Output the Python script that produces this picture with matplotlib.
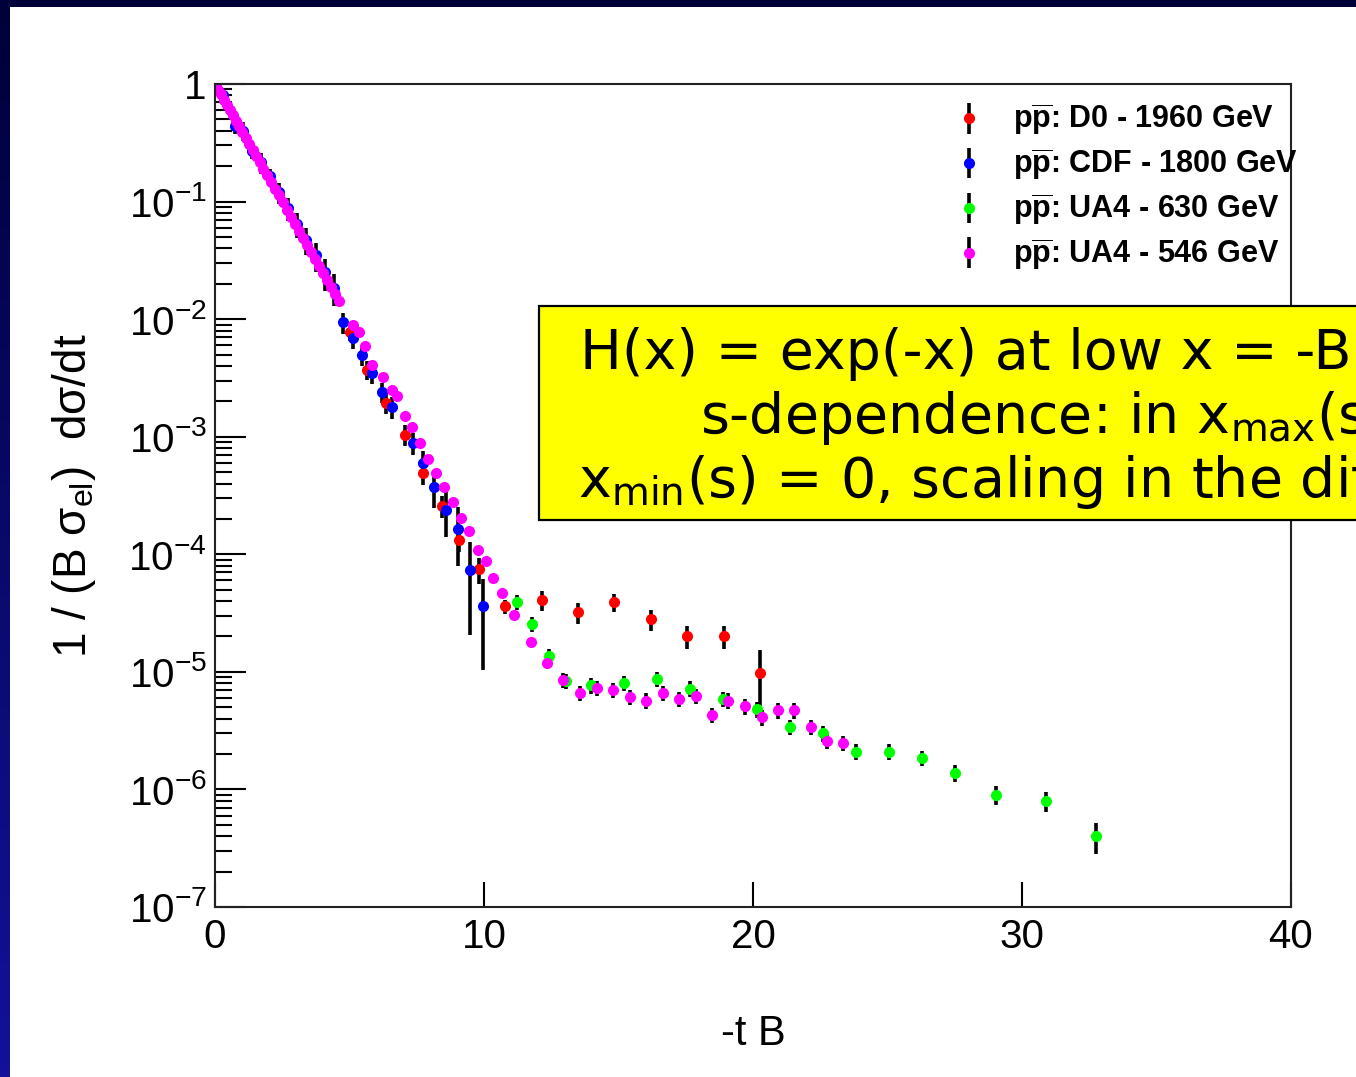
import numpy as np
import matplotlib
matplotlib.use("Agg")
import matplotlib.pyplot as plt
from matplotlib.patches import Rectangle
from matplotlib.ticker import FixedLocator, LogLocator, NullFormatter, NullLocator

plt.rcParams['font.family'] = ['Liberation Sans', 'DejaVu Sans']
plt.rcParams['mathtext.fontset'] = 'custom'
plt.rcParams['mathtext.rm'] = 'Liberation Sans'
plt.rcParams['mathtext.it'] = 'Liberation Sans:italic'
plt.rcParams['mathtext.bf'] = 'Liberation Sans:bold'
plt.rcParams['mathtext.sf'] = 'Liberation Sans'

# ---- data: x = -t B, y = 1/(B sigma_el) dsigma/dt ----
# D0, 1960 GeV
d0_x = [5.02, 5.65, 6.36, 7.06, 7.73, 8.44, 9.07, 9.81, 10.78, 12.16, 13.49,
        14.83, 16.21, 17.55, 18.92, 20.26]
d0_y = [7.7e-3, 3.7e-3, 1.95e-3, 1.04e-3, 4.95e-4, 2.59e-4, 1.33e-4, 7.5e-5,
        3.6e-5, 4.1e-5, 3.2e-5, 3.9e-5, 2.8e-5, 2.0e-5, 2.0e-5, 9.8e-6]
d0_rel = [0.15, 0.18, 0.2, 0.2, 0.22, 0.22, 0.22, 0.25, 0.13, 0.2, 0.2,
          0.18, 0.2, 0.22, 0.22, 0.58]

# CDF, 1800 GeV
cdf_x = [0.30, 0.74, 1.05, 1.38, 1.72, 2.04, 2.38, 2.72, 3.06, 3.40, 3.74,
         4.08, 4.42, 4.76, 5.13, 5.46, 5.84, 6.21, 6.58, 7.36, 7.73, 8.14,
         8.59, 9.03, 9.48, 9.96]
cdf_y = [0.80, 0.44, 0.40, 0.269, 0.215, 0.164, 0.12, 0.088, 0.064, 0.047,
         0.035, 0.025, 0.0185, 9.4e-3, 6.9e-3, 5.0e-3, 3.5e-3, 2.4e-3,
         1.8e-3, 8.9e-4, 6.0e-4, 3.7e-4, 2.4e-4, 1.65e-4, 7.4e-5, 3.6e-5]
cdf_rel = [0.15, 0.15, 0.18, 0.15, 0.2, 0.15, 0.2, 0.22, 0.24, 0.26, 0.28,
           0.3, 0.3, 0.2, 0.2, 0.2, 0.2, 0.2, 0.22, 0.22, 0.25, 0.33,
           0.42, 0.52, 0.72, 0.71]

# UA4, 630 GeV
ua630_x = [11.23, 11.78, 12.42, 13.05, 13.98, 15.20, 16.43, 17.66, 18.88,
           20.15, 21.38, 22.60, 23.83, 25.06, 26.28, 27.51, 29.03, 30.89,
           32.75]
ua630_y = [3.95e-5, 2.56e-5, 1.37e-5, 8.4e-6, 7.7e-6, 8.05e-6, 8.7e-6,
           7.2e-6, 5.9e-6, 4.8e-6, 3.4e-6, 3.0e-6, 2.1e-6, 2.1e-6, 1.85e-6,
           1.38e-6, 9.0e-7, 8.0e-7, 4.0e-7]
ua630_rel = [0.15, 0.15, 0.15, 0.15, 0.15, 0.15, 0.15, 0.15, 0.15, 0.15,
             0.15, 0.15, 0.15, 0.15, 0.15, 0.16, 0.18, 0.2, 0.3]

# UA4, 546 GeV
ua546_x = [0.02, 0.12, 0.22, 0.33, 0.44, 0.55, 0.66, 0.78, 0.90, 1.02, 1.14,
           1.27, 1.40, 1.53, 1.66, 1.80, 1.94, 2.08, 2.22, 2.37, 2.52, 2.67,
           2.82, 2.97, 3.12, 3.27, 3.42, 3.57, 3.72, 3.87, 4.02, 4.17, 4.32,
           4.47, 4.62, 5.13, 5.35, 5.58, 5.84, 6.25, 6.58, 6.77, 7.06, 7.32,
           7.62, 7.92, 8.22, 8.51, 8.85, 9.14, 9.44, 9.78, 10.07, 10.33,
           10.67, 11.12, 11.75, 12.34, 12.94, 13.57, 14.20, 14.80, 15.43,
           16.02, 16.65, 17.25, 17.88, 18.48, 19.07, 19.70, 20.33, 20.93,
           21.52, 22.16, 22.75, 23.35]
ua546_y = [0.982, 0.895, 0.817, 0.738, 0.667, 0.603, 0.545, 0.488, 0.437,
           0.391, 0.350, 0.310, 0.275, 0.244, 0.217, 0.191, 0.167, 0.147,
           0.129, 0.113, 0.0982, 0.0855, 0.0745, 0.0649, 0.0565, 0.0492,
           0.0429, 0.0373, 0.0325, 0.0283, 0.0247, 0.0215, 0.0187, 0.0163,
           0.0142, 9.0e-3, 7.7e-3, 5.9e-3, 4.1e-3, 3.2e-3, 2.5e-3, 2.2e-3,
           1.49e-3, 1.2e-3, 8.9e-4, 6.5e-4, 4.95e-4, 3.7e-4, 2.8e-4, 2.05e-4,
           1.59e-4, 1.09e-4, 8.8e-5, 6.3e-5, 4.7e-5, 3.06e-5, 1.8e-5, 1.19e-5,
           8.5e-6, 6.6e-6, 7.3e-6, 7.0e-6, 6.1e-6, 5.7e-6, 6.6e-6, 5.9e-6,
           6.25e-6, 4.3e-6, 5.7e-6, 5.1e-6, 4.1e-6, 4.7e-6, 4.7e-6, 3.4e-6,
           2.6e-6, 2.5e-6]
ua546_rel = [0.03] * 58 + [0.15] * 18

series = [
    (d0_x, d0_y, d0_rel, '#ff0000', r'$\mathbf{p\overline{p}}$: D0 - 1960 GeV'),
    (cdf_x, cdf_y, cdf_rel, '#0000ff', r'$\mathbf{p\overline{p}}$: CDF - 1800 GeV'),
    (ua630_x, ua630_y, ua630_rel, '#00ff00', r'$\mathbf{p\overline{p}}$: UA4 - 630 GeV'),
    (ua546_x, ua546_y, ua546_rel, '#ff00ff', r'$\mathbf{p\overline{p}}$: UA4 - 546 GeV'),
]

W, H = 1356, 1077
fig = plt.figure(figsize=(W / 100, H / 100), dpi=100)

# navy slide frame
bg = fig.add_axes([0, 0, 1, 1], zorder=-10)
grad = np.linspace(0, 1, 256).reshape(-1, 1)
top_c = np.array([0x00, 0x00, 0x3a]) / 255
bot_c = np.array([0x12, 0x12, 0x9a]) / 255
img = top_c[None, None, :] * (1 - grad[..., None]) + bot_c[None, None, :] * grad[..., None]
bg.imshow(img, extent=[0, 1, 0, 1], aspect='auto', origin='upper')
bg.add_patch(Rectangle((10 / W, 0), 1, 1 - 7 / H, facecolor='white', edgecolor='none'))
bg.set_xlim(0, 1)
bg.set_ylim(0, 1)
bg.axis('off')

ax = fig.add_axes([215 / W, 1 - 907 / H, (1291 - 215) / W, (907 - 84) / H])
ax.set_facecolor('white')

handles = []
for x, y, rel, col, lab in series:
    x = np.asarray(x)
    y = np.asarray(y)
    err = y * np.asarray(rel)
    ax.errorbar(x, y, yerr=err, fmt='o', ms=8, mfc=col, mec=col, mew=0,
                ecolor='black', elinewidth=2.6, capsize=3.5, capthick=2.6)
    h = ax.errorbar([np.nan], [np.nan], yerr=[np.nan], fmt='o', ms=8, mfc=col,
                    mec=col, mew=0, ecolor='black', elinewidth=2.6, capsize=0)
    handles.append((h, lab))

ax.set_xlim(0, 40)
ax.set_yscale('log')
ax.set_ylim(1e-7, 1)

ax.set_xticks([0, 10, 20, 30, 40])
ax.set_xticklabels(['0', '10', '20', '30', '40'])
ax.xaxis.set_minor_locator(NullLocator())
ax.yaxis.set_major_locator(FixedLocator([1e-7, 1e-6, 1e-5, 1e-4, 1e-3, 1e-2, 1e-1, 1]))
ax.set_yticklabels([r'$10^{-7}$', r'$10^{-6}$', r'$10^{-5}$', r'$10^{-4}$',
                    r'$10^{-3}$', r'$10^{-2}$', r'$10^{-1}$', '1'])
ax.yaxis.set_minor_locator(LogLocator(base=10, subs=np.arange(2, 10), numticks=20))
ax.yaxis.set_minor_formatter(NullFormatter())

ax.tick_params(axis='x', which='major', direction='in', length=18, width=1.5,
               labelsize=29, pad=8, top=False)
ax.tick_params(axis='y', which='major', direction='in', length=22, width=1.5,
               labelsize=29, pad=6, right=False)
ax.tick_params(axis='y', which='minor', direction='in', length=12, width=1.5,
               right=False)
for s in ax.spines.values():
    s.set_linewidth(1.5)
    s.set_color('#222222')

ax.set_xlabel('-t B', fontsize=30, labelpad=42)
ax.set_ylabel(r'1 / (B σ$_{\mathrm{el}}$)  dσ/dt', fontsize=33, labelpad=22)

leg = ax.legend([h for h, _ in handles], [l for _, l in handles],
                loc='upper left', bbox_to_anchor=(0.665, 1.004), frameon=False,
                prop={'size': 22, 'weight': 'bold'}, handlelength=1.1,
                handletextpad=0.9, labelspacing=0.28, borderaxespad=0.3)

# yellow comment box over the plot
box_l, box_t, box_b = 539 / W, 1 - 306 / H, 1 - 520 / H
fig.patches.append(Rectangle((box_l, box_b), 0.8, box_t - box_b,
                             transform=fig.transFigure, facecolor='#ffff00',
                             edgecolor='black', linewidth=1.6, zorder=20))
tkw = dict(fontsize=40, family='DejaVu Sans', color='black',
           va='baseline', ha='left', zorder=21)
fig.text(580 / W, 1 - 369 / H, 'H(x) = exp(-x) at low x = -B', **tkw)
fig.text(700 / W, 1 - 433 / H, r's-dependence: in x$_\mathregular{max}$(s)', **tkw)
fig.text(578 / W, 1 - 497 / H, r'x$_\mathregular{min}$(s) = 0, scaling in the diff', **tkw)

fig.savefig('out.png', dpi=100)
